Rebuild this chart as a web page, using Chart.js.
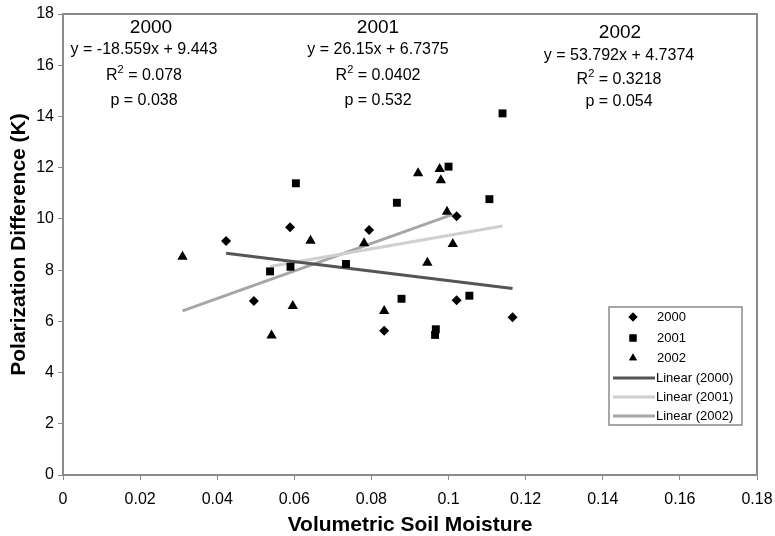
<!DOCTYPE html>
<html><head><meta charset="utf-8">
<script src="https://cdn.jsdelivr.net/npm/chart.js@4/dist/chart.umd.min.js"></script>
<style>html,body{margin:0;padding:0;background:#fff}#wrap{width:775px;height:536px}</style>
</head><body><div id="wrap"><canvas id="c" width="775" height="536"></canvas></div>
<script>
const years = ['2000','2001','2002'];
const x2000 = [0.0423,0.0495,0.0589,0.0794,0.0833,0.1021,0.1021,0.1166];
const y2000 = [9.14,6.79,9.67,9.57,5.63,10.10,6.82,6.16];
const x2001 = [0.0537,0.0590,0.0604,0.0734,0.0866,0.0878,0.0965,0.0967,0.1000,0.1054,0.1106,0.1140];
const y2001 = [7.95,8.13,11.39,8.24,10.63,6.88,5.47,5.69,12.04,7.00,10.77,14.12];
const x2002 = [0.0310,0.0541,0.0596,0.0642,0.0781,0.0833,0.0921,0.0945,0.0977,0.0980,0.0996,0.1011];
const y2002 = [8.52,5.45,6.60,9.15,9.05,6.40,11.78,8.29,11.95,11.51,10.28,9.02];
const slopes = [-18.559, 26.15, 53.792];
const intercepts = [9.443, 6.7375, 4.7374];
const eqLabels = ['y = -18.559x + 9.443','y = 26.15x + 6.7375','y = 53.792x + 4.7374'];
const r2Labels = ['0.078','0.0402','0.3218'];
const pLabels = ['p = 0.038','p = 0.532','p = 0.054'];
const xTitle = 'Volumetric Soil Moisture';
const yTitle = 'Polarization Difference (K)';

const xs = [x2000,x2001,x2002], ys = [y2000,y2001,y2002];
const styles = ['rectRot','rect','triangle'];
const radii = [5,5.6,6];
const lineColors = ['#555555','#cfcfcf','#a6a6a6'];
const pts = (xa,ya)=>xa.map((v,i)=>({x:v,y:ya[i]}));
const trend = (k)=>{const a=Math.min(...xs[k]),b=Math.max(...xs[k]);return [{x:a,y:slopes[k]*a+intercepts[k]},{x:b,y:slopes[k]*b+intercepts[k]}];};

const datasets = [];
for(let k=0;k<3;k++){
  datasets.push({label:'Linear ('+years[k]+')',data:trend(k),showLine:true,borderColor:lineColors[k],borderWidth:3,pointRadius:0,order:2});
}
for(let k=0;k<3;k++){
  datasets.push({label:years[k],data:pts(xs[k],ys[k]),pointStyle:styles[k],pointRadius:radii[k],pointHoverRadius:radii[k],backgroundColor:'#000',borderColor:'#000',borderWidth:0,order:1});
}

const FONT = "'Liberation Sans', Arial, sans-serif";
const annot = {
  id:'annot',
  afterDraw(chart){
    const ctx=chart.ctx, ca=chart.chartArea;
    ctx.save();
    ctx.strokeStyle='#8a8a8a'; ctx.lineWidth=2;
    ctx.strokeRect(ca.left,ca.top,ca.right-ca.left,ca.bottom-ca.top);
    ctx.fillStyle='#000'; ctx.textBaseline='middle';
    const cy=[151,378,620], cx=[144,378,619];
    const yy=[[28,50,76,101],[28,50,76,101],[33,56,80,102]];
    for(let k=0;k<3;k++){
      ctx.textAlign='center';
      ctx.font='19px '+FONT; ctx.fillText(years[k],cy[k],yy[k][0]);
      ctx.font='16px '+FONT; ctx.fillText(eqLabels[k],cx[k],yy[k][1]);
      ctx.fillText(pLabels[k],cx[k],yy[k][3]);
      const rest=' = '+r2Labels[k];
      ctx.font='16px '+FONT; const wR=ctx.measureText('R').width, wRest=ctx.measureText(rest).width;
      ctx.font='11px '+FONT; const w2=ctx.measureText('2').width;
      const total=wR+w2+wRest; let x0=cx[k]-total/2;
      ctx.textAlign='left';
      ctx.font='16px '+FONT; ctx.fillText('R',x0,yy[k][2]);
      ctx.font='11px '+FONT; ctx.fillText('2',x0+wR,yy[k][2]-6);
      ctx.font='16px '+FONT; ctx.fillText(rest,x0+wR+w2,yy[k][2]);
    }
    const lx=609, ly=307, lw=133, lh=118;
    ctx.fillStyle='#fff'; ctx.fillRect(lx,ly,lw,lh);
    ctx.strokeStyle='#8a8a8a'; ctx.lineWidth=1.5; ctx.strokeRect(lx,ly,lw,lh);
    ctx.textAlign='left'; ctx.font='13px '+FONT;
    const rows=[317,338,358,378,397,416];
    for(let k=0;k<3;k++){
      ctx.fillStyle='#000';
      Chart.helpers.drawPoint(ctx,{pointStyle:styles[k],radius:k==1?5:4.5,rotation:0,borderWidth:0},633,rows[k]);
      ctx.fill();
      ctx.fillText(years[k],657,rows[k]);
    }
    for(let k=0;k<3;k++){
      const y=rows[3+k];
      ctx.strokeStyle=lineColors[k]; ctx.lineWidth=3;
      ctx.beginPath(); ctx.moveTo(613,y); ctx.lineTo(655,y); ctx.stroke();
      ctx.fillStyle='#000'; ctx.fillText('Linear ('+years[k]+')',656,y);
    }
    ctx.restore();
  }
};

new Chart(document.getElementById('c'),{
  type:'scatter',
  data:{datasets},
  options:{
    responsive:false, animation:false, devicePixelRatio:1,
    layout:{padding:{left:0,right:18,top:14,bottom:0}},
    plugins:{legend:{display:false},tooltip:{enabled:false}},
    scales:{
      x:{type:'linear',min:0,max:0.18,
        ticks:{stepSize:0.02,color:'#000',font:{size:16,family:FONT},padding:10,maxRotation:0,callback:v=>String(Math.round(v*100)/100)},
        grid:{drawOnChartArea:false,drawTicks:true,tickLength:5,color:'#8a8a8a'},
        border:{display:true,color:'#8a8a8a',width:2},
        title:{display:true,text:xTitle,color:'#000',font:{size:21,weight:'bold',family:FONT,lineHeight:1},padding:{top:0,bottom:0}},
        afterFit(s){s.height=61; s.paddingLeft=0; s.paddingRight=0;}
      },
      y:{type:'linear',min:0,max:18,
        ticks:{stepSize:2,color:'#000',font:{size:16,family:FONT},padding:4},
        grid:{drawOnChartArea:false,drawTicks:true,tickLength:5,color:'#8a8a8a'},
        border:{display:true,color:'#8a8a8a',width:2},
        title:{display:true,text:yTitle,color:'#000',font:{size:21,weight:'bold',family:FONT,lineHeight:1},padding:{top:9,bottom:0}},
        afterFit(s){s.width=63; s.paddingTop=0; s.paddingBottom=0;}
      }
    }
  },
  plugins:[annot]
});
</script></body></html>
